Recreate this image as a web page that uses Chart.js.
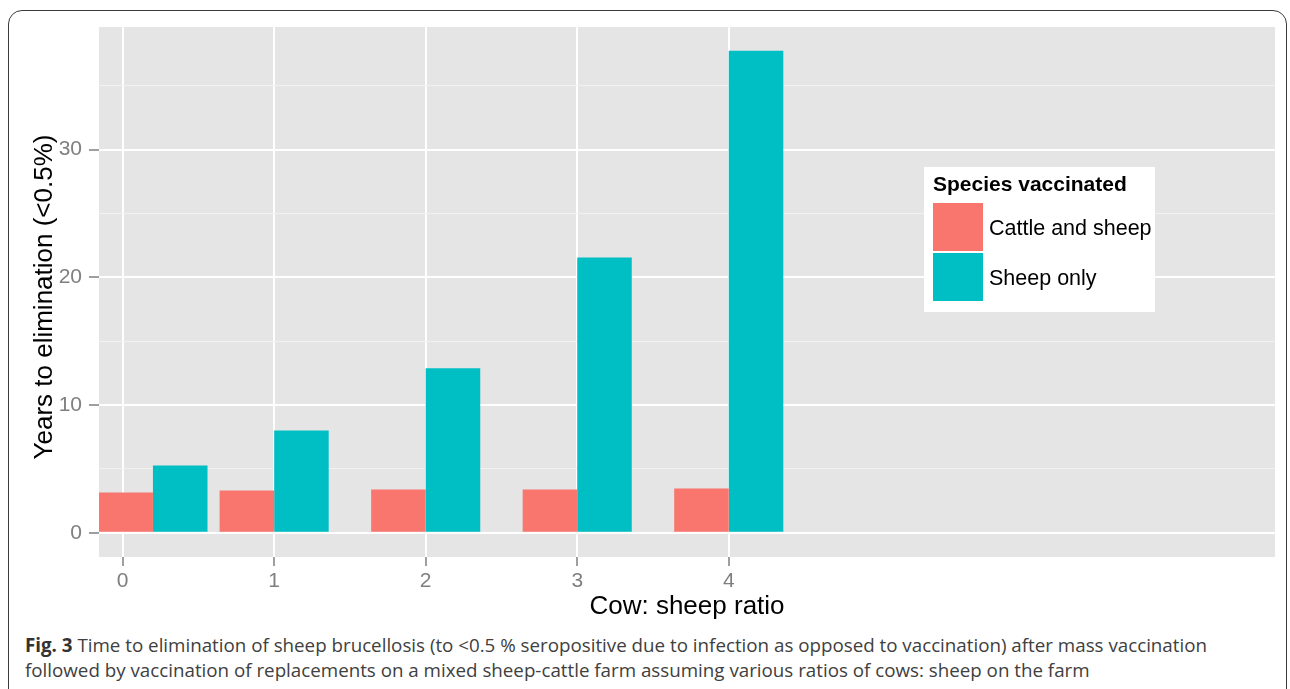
<!DOCTYPE html>
<html>
<head>
<meta charset="utf-8">
<script src="https://cdn.jsdelivr.net/npm/chart.js@4"></script>
<style>
  html, body { margin: 0; padding: 0; background: #fff; width: 1290px; height: 689px; overflow: hidden; }
  #frame { position: absolute; left: 8px; top: 10px; width: 1279px; height: 700px; border: 1.5px solid #3a3a3a; border-radius: 14px; box-sizing: border-box; }
  #wrap { position: absolute; left: 0; top: 0; width: 1290px; height: 625px; }
  #caption { position: absolute; left: 25px; top: 633px; font-family: "Open Sans", sans-serif; font-size: 19px; line-height: 25px; color: #404040; white-space: nowrap; }
  #caption div { transform-origin: 0 0; }
  #caption b { font-weight: 700; color: #333; }
</style>
</head>
<body>
<div id="frame"></div>
<div id="wrap"><canvas id="c" width="1290" height="625"></canvas></div>
<div id="caption">
  <div id="l1"><b>Fig. 3</b> Time to elimination of sheep brucellosis (to &lt;0.5 % seropositive due to infection as opposed to vaccination) after mass vaccination</div>
  <div id="l2">followed by vaccination of replacements on a mixed sheep-cattle farm assuming various ratios of cows: sheep on the farm</div>
</div>
<script>
// ---- data ----
const ratios = [0.2, 1, 2, 3, 4];
const cattleAndSheep = [3.15, 3.31, 3.39, 3.39, 3.47];
const sheepOnly = [5.27, 8.0, 12.87, 21.56, 37.75];
const seriesNames = ["Cattle and sheep", "Sheep only"];
const xTicks = [0, 1, 2, 3, 4];
const yTicks = [0, 5, 10, 15, 20, 25, 30, 35];
const yLabelled = [0, 10, 20, 30];
const xTitle = "Cow: sheep ratio";
const yTitle = "Years to elimination (<0.5%)";
const legendTitle = "Species vaccinated";

const RED = "#F8766D", TEAL = "#00BFC4", GREY_TXT = "#7F7F7F";
const FONT = "'Liberation Sans', Arial, sans-serif";

const bgPlugin = {
  id: "bg",
  beforeDraw(chart) {
    const a = chart.chartArea, ctx = chart.ctx;
    ctx.save();
    ctx.fillStyle = "#E5E5E5";
    ctx.fillRect(a.left, a.top, a.right - a.left, a.bottom - a.top);
    ctx.restore();
  },
  afterDraw(chart) {
    const a = chart.chartArea, ctx = chart.ctx;
    ctx.save();
    // axis titles
    ctx.fillStyle = "#000";
    ctx.font = "26px " + FONT;
    ctx.textAlign = "center";
    ctx.textBaseline = "alphabetic";
    ctx.fillText(xTitle, (a.left + a.right) / 2, 614);
    ctx.translate(52, (a.top + a.bottom) / 2 + 5);
    ctx.rotate(-Math.PI / 2);
    ctx.fillText(yTitle, 0, 0);
    ctx.restore();
    // legend
    ctx.save();
    ctx.fillStyle = "#fff";
    ctx.fillRect(924, 167, 231, 145);
    ctx.fillStyle = "#000";
    ctx.font = "bold 21px " + FONT;
    ctx.textAlign = "left";
    ctx.textBaseline = "alphabetic";
    ctx.fillText(legendTitle, 933, 191);
    const ds = chart.data.datasets;
    const keyTop = [203, 253];
    const base = [235, 285];
    ds.forEach((d, i) => {
      ctx.fillStyle = d.backgroundColor;
      ctx.fillRect(933, keyTop[i], 50, 48);
      ctx.fillStyle = "#000";
      ctx.font = "21.5px " + FONT;
      ctx.fillText(d.label, 989, base[i]);
    });
    ctx.restore();
  }
};

new Chart(document.getElementById("c"), {
  type: "bar",
  data: {
    datasets: [
      { label: seriesNames[0], data: ratios.map((x, i) => ({ x, y: cattleAndSheep[i] })), backgroundColor: RED, borderWidth: 0 },
      { label: seriesNames[1], data: ratios.map((x, i) => ({ x, y: sheepOnly[i] })), backgroundColor: TEAL, borderWidth: 0 }
    ]
  },
  options: {
    responsive: false,
    animation: false,
    devicePixelRatio: 1,
    categoryPercentage: 0.9,
    barPercentage: 1.0,
    layout: { padding: { top: 27, right: 15, bottom: 0, left: 0 } },
    plugins: { legend: { display: false }, tooltip: { enabled: false } },
    scales: {
      x: {
        type: "linear",
        min: -0.156,
        max: 7.605,
        offset: false,
        afterBuildTicks(s) { s.ticks = xTicks.map(v => ({ value: v })); },
        afterFit(s) { s.height = 68; },
        border: { display: false },
        grid: { offset: false, color: "#FFFFFF", lineWidth: 2, drawTicks: true, tickLength: 9, tickColor: GREY_TXT, tickWidth: 1.5 },
        ticks: { color: GREY_TXT, font: { family: FONT, size: 21 }, padding: 3, maxRotation: 0, autoSkip: false, callback: v => String(v) }
      },
      y: {
        type: "linear",
        min: -1.9,
        max: 39.6,
        afterBuildTicks(s) { s.ticks = yTicks.map(v => ({ value: v })); },
        afterFit(s) { s.width = 99; },
        border: { display: false },
        grid: {
          color: c => (yLabelled.includes(c.tick.value) ? "#FFFFFF" : "#F2F2F2"),
          lineWidth: c => (yLabelled.includes(c.tick.value) ? 2 : 1),
          drawTicks: true, tickLength: 10,
          tickColor: c => (yLabelled.includes(c.tick.value) ? GREY_TXT : "rgba(0,0,0,0)"),
          tickWidth: 1.5
        },
        ticks: { color: GREY_TXT, font: { family: FONT, size: 21 }, padding: 7, autoSkip: false,
          callback: v => (yLabelled.includes(v) ? String(v) : "") }
      }
    }
  },
  plugins: [bgPlugin]
});

// fit caption lines to the reference width
(function () {
  const l1 = document.getElementById("l1");
  const l2 = document.getElementById("l2");
  const target = 1182;
  const r = l1.getBoundingClientRect().width;
  const s = target / r;
  l1.style.transform = "scaleX(" + s + ")";
  l2.style.transform = "scaleX(" + s + ")";
})();
</script>
</body>
</html>
